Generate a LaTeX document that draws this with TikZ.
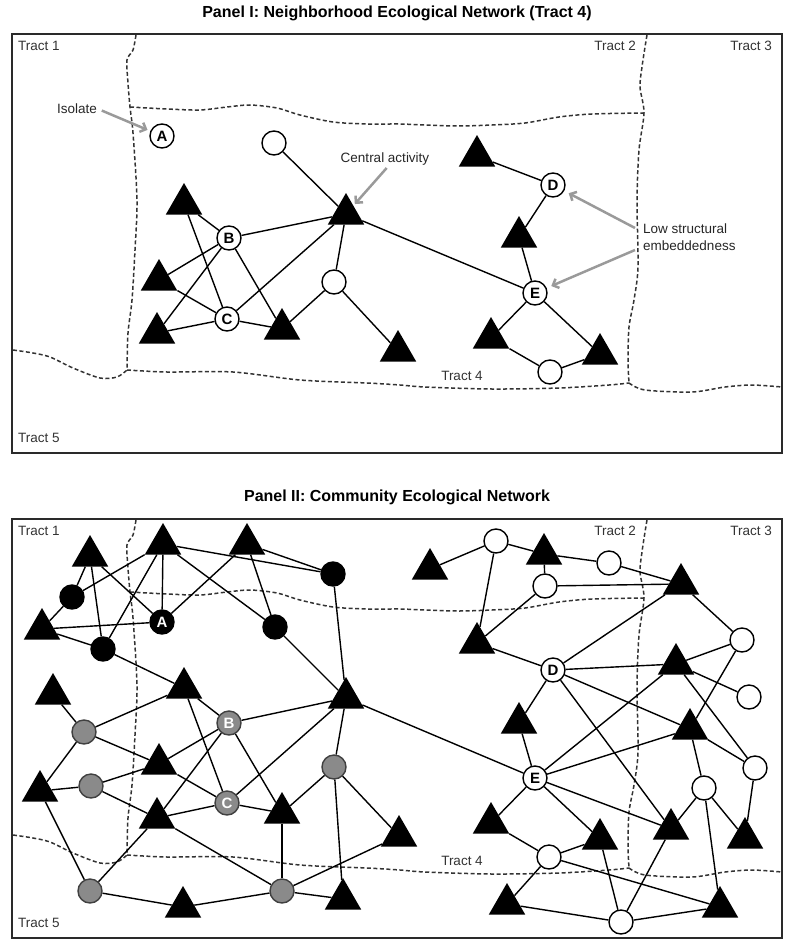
\documentclass[tikz,border=0pt]{standalone}
\usepackage{fontspec}
\setmainfont{Liberation Sans}
\usepackage{tikz}
\usetikzlibrary{shapes.geometric, arrows.meta}
\usepackage{xcolor}
\definecolor{midgray}{HTML}{8A8A8A}
\definecolor{arrowgray}{HTML}{9A9A9A}
\definecolor{framegray}{HTML}{2A2A2A}

\begin{document}
\begin{tikzpicture}[x=1pt, y=-1pt,
  tri/.style={regular polygon, regular polygon sides=3, fill=black, minimum size=42pt, inner sep=0pt},
  wnode/.style={circle, draw=black, fill=white, line width=1.4pt, minimum size=24pt, inner sep=0pt, font=\bfseries\fontsize{15}{15}\selectfont},
  bnode/.style={wnode, fill=black, text=white},
  gnode/.style={wnode, fill=midgray, draw=black!75, text=white},
  link/.style={line width=1.4pt},
  tractline/.style={dash pattern=on 4pt off 2.5pt, line width=1.5pt, black!80},
  frame/.style={draw=framegray, line width=2.2pt},
  tract/.style={font=\fontsize{13.5}{16}\selectfont, text=black!80, inner sep=1pt},
  title/.style={font=\bfseries\fontsize{16}{18}\selectfont},
  note/.style={font=\fontsize{13.5}{17}\selectfont, text=black!85, inner sep=1pt},
  annot/.style={-{Straight Barb[length=5pt, width=10pt]}, arrowgray, line width=2.5pt},
]
\useasboundingbox (0,0) rectangle (792,947);

% tract boundaries, same for both panels
\foreach \dy/\p in {0/i,485/ii} {
  \begin{scope}[shift={(0,\dy)}]
    \draw[tractline] plot[smooth] coordinates {(136,35) (133,50) (127,60) (128,83) (130,107) (133,133) (137,200) (135,250) (132,300) (128,333) (127,370)};
    \draw[tractline] plot[smooth] coordinates {(130,107) (167,109) (200,110) (227,107) (250,105) (277,108) (300,115) (333,122) (367,124) (400,124) (425,125) (459,126) (492,125) (525,123) (559,117) (592,114) (643,113)};
    \draw[tractline] plot[smooth] coordinates {(647,35) (645,47) (642,67) (640,87) (644,113) (639,150) (637,200) (638,267) (634,300) (629,327) (628,360) (629,383)};
    \draw[tractline] plot[smooth] coordinates {(13,350) (33,353) (50,357) (73,368) (100,378) (117,377) (127,370)};
    \draw[tractline] plot[smooth] coordinates {(127,370) (167,372) (233,372) (300,380) (367,383) (400,385) (425,387) (492,389) (559,388) (609,385) (629,383)};
    \draw[tractline] plot[smooth] coordinates {(629,383) (645,390) (692,392) (725,387) (752,385) (782,387)};
    \draw[frame] (12,34) rectangle (782,453);
    \node[tract, anchor=west] (tr1\p) at (17,46) {Tract 1};
    \node[tract, anchor=east] (tr2\p) at (637,46) {Tract 2};
    \node[tract, anchor=east] (tr3\p) at (773,46) {Tract 3};
    \node[tract] (tr4\p) at (462,376) {Tract 4};
    \node[tract, anchor=west] (tr5\p) at (17,438) {Tract 5};
  \end{scope}
}

\node[title] (ttl1) at (397,13) {Panel I: Neighborhood Ecological Network (Tract 4)};
\node[title] (ttl2) at (397,497) {Panel II: Community Ecological Network};

% Panel I
\node[note] (iso) at (77,109) {Isolate};
\node[note] (cact) at (385,159) {Central activity};
\node[note, anchor=west, align=left] (low) at (642,237) {Low structural\\embeddedness};

\node[tri] (pcen) at (346,214) {};
\node[tri] (pt1) at (184,204) {};
\node[tri] (pt2) at (159,280) {};
\node[tri] (pt3) at (157,333) {};
\node[tri] (pt4) at (282,329) {};
\node[tri] (pt5) at (398,351) {};
\node[tri] (pt6) at (477,156) {};
\node[tri] (pt7) at (519,237) {};
\node[tri] (pt8) at (491,338) {};
\node[tri] (pt9) at (600,354) {};
\node[wnode] (pA) at (162,136) {A};
\node[wnode] (pB) at (229,238) {B};
\node[wnode] (pC) at (227,319) {C};
\node[wnode] (pD) at (553,185) {D};
\node[wnode] (pE) at (535,293) {E};
\node[wnode] (pw1) at (274,143) {};
\node[wnode] (pw2) at (334,282) {};
\node[wnode] (pw3) at (550,372) {};

\draw[link] (pw1) -- (pcen);
\draw[link] (pt1) -- (pB);
\draw[link] (pt1) -- (pC);
\draw[link] (pB) -- (pcen);
\draw[link] (pB) -- (pt2);
\draw[link] (pB) -- (pt3);
\draw[link] (pB) -- (pt4);
\draw[link] (pt2) -- (pC);
\draw[link] (pt3) -- (pC);
\draw[link] (pC) -- (pt4);
\draw[link] (pC) -- (pcen);
\draw[link] (pcen) -- (pw2);
\draw[link] (pw2) -- (pt4);
\draw[link] (pw2) -- (pt5);
\draw[link] (pcen) -- (pE);
\draw[link] (pt6) -- (pD);
\draw[link] (pD) -- (pt7);
\draw[link] (pt7) -- (pE);
\draw[link] (pE) -- (pt8);
\draw[link] (pE) -- (pt9);
\draw[link] (pt8) -- (pw3);
\draw[link] (pw3) -- (pt9);

\draw[annot, shorten <=4pt, shorten >=3pt] (iso.east) -- (pA);
\draw[annot, shorten <=2pt, shorten >=2pt] ([xshift=3pt]cact.south) -- (pcen);
\draw[annot, shorten >=5pt] ([xshift=-7pt, yshift=9pt]low.west) -- (pD);
\draw[annot, shorten >=5pt] ([xshift=-7pt, yshift=-13pt]low.west) -- (pE);

% Panel II
\node[tri] (qt1) at (90,556) {};
\node[tri] (qt2) at (163,544) {};
\node[tri] (qt3) at (247,544) {};
\node[tri] (qt4) at (42,629) {};
\node[tri] (qt5) at (53,694) {};
\node[tri] (qt6) at (184,688) {};
\node[tri] (qt7) at (346,698) {};
\node[tri] (qt8) at (159,764) {};
\node[tri] (qt9) at (40,791) {};
\node[tri] (qt10) at (157,818) {};
\node[tri] (qt11) at (282,813) {};
\node[tri] (qt12) at (399,836) {};
\node[tri] (qt13) at (183,907) {};
\node[tri] (qt14) at (343,899) {};
\node[tri] (qu1) at (430,569) {};
\node[tri] (qu2) at (544,554) {};
\node[tri] (qu3) at (681,584) {};
\node[tri] (qu4) at (477,643) {};
\node[tri] (qu5) at (676,664) {};
\node[tri] (qu6) at (519,723) {};
\node[tri] (qu7) at (690,729) {};
\node[tri] (qu8) at (491,823) {};
\node[tri] (qu9) at (600,839) {};
\node[tri] (qu10) at (671,829) {};
\node[tri] (qu11) at (745,838) {};
\node[tri] (qu12) at (507,904) {};
\node[tri] (qu13) at (720,907) {};

\node[bnode] (qA) at (162,622) {A};
\node[gnode] (qB) at (229,723) {B};
\node[gnode] (qC) at (227,803) {C};
\node[wnode] (qD) at (553,670) {D};
\node[wnode] (qE) at (535,778) {E};
\node[bnode] (qk1) at (72,597) {};
\node[bnode] (qk2) at (103,649) {};
\node[bnode] (qk3) at (275,627) {};
\node[bnode] (qk4) at (333,574) {};
\node[gnode] (qg1) at (84,732) {};
\node[gnode] (qg2) at (91,786) {};
\node[gnode] (qg3) at (334,767) {};
\node[gnode] (qg4) at (90,891) {};
\node[gnode] (qg5) at (282,891) {};
\node[wnode] (qw1) at (496,541) {};
\node[wnode] (qw2) at (609,563) {};
\node[wnode] (qw3) at (545,586) {};
\node[wnode] (qw4) at (742,640) {};
\node[wnode] (qw5) at (749,697) {};
\node[wnode] (qw6) at (755,768) {};
\node[wnode] (qw7) at (704,788) {};
\node[wnode] (qw8) at (549,857) {};
\node[wnode] (qw9) at (621,922) {};

% black cluster
\draw[link] (qt1) -- (qk1);
\draw[link] (qt1) -- (qk2);
\draw[link] (qt1) -- (qA);
\draw[link] (qk1) -- (qt2);
\draw[link] (qk1) -- (qt4);
\draw[link] (qt4) -- (qA);
\draw[link] (qt4) -- (qk2);
\draw[link] (qk2) -- (qt2);
\draw[link] (qt2) -- (qA);
\draw[link] (qt2) -- (qk4);
\draw[link] (qt2) -- (qk3);
\draw[link] (qt3) -- (qA);
\draw[link] (qt3) -- (qk3);
\draw[link] (qt3) -- (qk4);
\draw[link] (qk3) -- (qt7);
\draw[link] (qk4) -- (qt7);
\draw[link] (qk2) -- (qt6);
% gray cluster
\draw[link] (qt5) -- (qg1);
\draw[link] (qg1) -- (qt6);
\draw[link] (qg1) -- (qt8);
\draw[link] (qg1) -- (qt9);
\draw[link] (qt9) -- (qg2);
\draw[link] (qt9) -- (qg4);
\draw[link] (qg2) -- (qt8);
\draw[link] (qg2) -- (qt10);
\draw[link] (qt6) -- (qB);
\draw[link] (qt6) -- (qC);
\draw[link] (qt8) -- (qB);
\draw[link] (qt8) -- (qC);
\draw[link] (qB) -- (qt10);
\draw[link] (qB) -- (qt7);
\draw[link] (qB) -- (qt11);
\draw[link] (qt10) -- (qC);
\draw[link] (qC) -- (qt11);
\draw[link] (qC) -- (qt7);
\draw[link] (qt7) -- (qg3);
\draw[link] (qg3) -- (qt11);
\draw[link] (qg3) -- (qt12);
\draw[link] (qg3) -- (qt14);
\draw[link] (qt11) -- (qg5);
\draw[link] (qt10) -- (qg4);
\draw[link] (qt10) -- (qg5);
\draw[link] (qg4) -- (qt13);
\draw[link] (qt13) -- (qg5);
\draw[link] (qg5) -- (qt14);
\draw[link] (qg5) -- (qt12);
\draw[link] (qt7) -- (qE);
% white cluster
\draw[link] (qu1) -- (qw1);
\draw[link] (qw1) -- (qu2);
\draw[link] (qw1) -- (qu4);
\draw[link] (qu2) -- (qw3);
\draw[link] (qu2) -- (qw2);
\draw[link] (qw2) -- (qu3);
\draw[link] (qw3) -- (qu3);
\draw[link] (qw3) -- (qu4);
\draw[link] (qu4) -- (qD);
\draw[link] (qD) -- (qu3);
\draw[link] (qu3) -- (qw4);
\draw[link] (qD) -- (qu5);
\draw[link] (qu5) -- (qw4);
\draw[link] (qu5) -- (qw5);
\draw[link] (qu5) -- (qw6);
\draw[link] (qw4) -- (qu7);
\draw[link] (qD) -- (qu6);
\draw[link] (qD) -- (qu7);
\draw[link] (qD) -- (qu10);
\draw[link] (qu6) -- (qE);
\draw[link] (qE) -- (qu5);
\draw[link] (qE) -- (qu7);
\draw[link] (qE) -- (qu10);
\draw[link] (qE) -- (qu8);
\draw[link] (qE) -- (qu9);
\draw[link] (qu8) -- (qw8);
\draw[link] (qw8) -- (qu9);
\draw[link] (qw8) -- (qu12);
\draw[link] (qw8) -- (qu13);
\draw[link] (qu9) -- (qw9);
\draw[link] (qu10) -- (qw9);
\draw[link] (qu10) -- (qw7);
\draw[link] (qw7) -- (qu11);
\draw[link] (qw7) -- (qu13);
\draw[link] (qw6) -- (qu11);
\draw[link] (qu7) -- (qw6);
\draw[link] (qu7) -- (qw7);
\draw[link] (qu12) -- (qw9);
\draw[link] (qw9) -- (qu13);

\end{tikzpicture}
\end{document}
